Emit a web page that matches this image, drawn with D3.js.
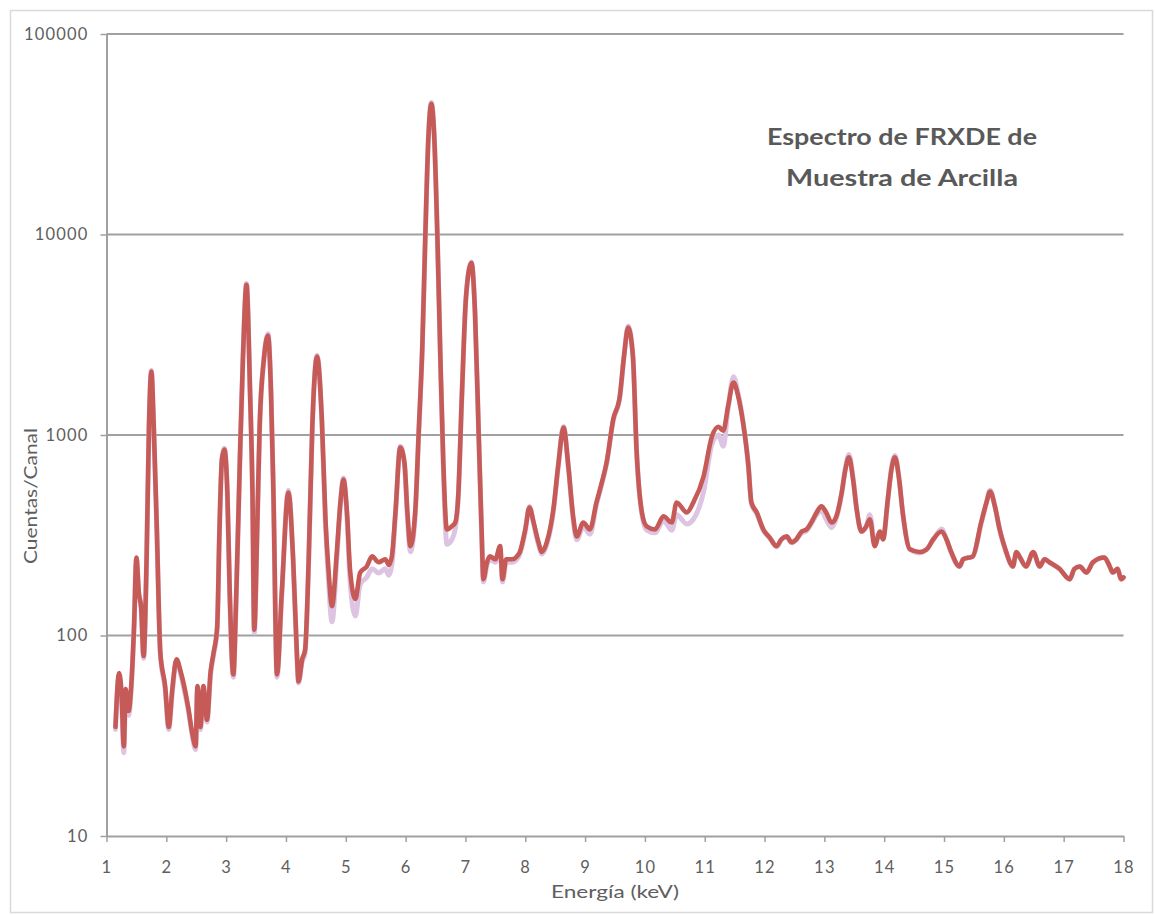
<!DOCTYPE html>
<html>
<head>
<meta charset="utf-8">
<script src="https://cdn.jsdelivr.net/npm/d3@7"></script>
<style>
  html, body { margin: 0; padding: 0; background: #ffffff; }
  svg { display: block; }
  text { font-family: Lato, "Open Sans", "DejaVu Sans", sans-serif; }
</style>
</head>
<body>
<svg id="chart" width="1155" height="915"></svg>
<script>
// Energy channels (keV) of the EDXRF spectrum
const energy = [
  1.15, 1.21, 1.25, 1.29, 1.32, 1.37, 1.41, 1.46, 1.50, 1.54, 1.58, 1.62, 1.67, 1.71, 1.75, 1.79, 1.84, 1.90, 1.98,
  2.04, 2.10, 2.17, 2.24, 2.32, 2.37, 2.43, 2.49, 2.52, 2.57, 2.62, 2.68, 2.74, 2.79, 2.85, 2.89, 2.93, 2.97,
  3.02, 3.06, 3.12, 3.17, 3.23, 3.28, 3.34, 3.40, 3.44, 3.47, 3.52, 3.56, 3.63, 3.70, 3.75, 3.79, 3.85, 3.93,
  4.04, 4.12, 4.18, 4.21, 4.27, 4.32, 4.38, 4.44, 4.52, 4.60, 4.66, 4.71, 4.77, 4.85, 4.91, 4.96,
  5.02, 5.07, 5.16, 5.24, 5.35, 5.44, 5.55, 5.66, 5.72, 5.77, 5.83, 5.91, 5.98,
  6.03, 6.08, 6.16, 6.22, 6.28, 6.33, 6.38, 6.43, 6.48, 6.53, 6.58, 6.63, 6.69, 6.77, 6.83, 6.88, 6.94,
  7.01, 7.10, 7.16, 7.22, 7.27, 7.30, 7.36, 7.41, 7.50, 7.58, 7.62, 7.68, 7.78, 7.86, 7.91,
  8.00, 8.07, 8.14, 8.22, 8.28, 8.36, 8.47, 8.55, 8.64, 8.72, 8.80, 8.86, 8.97,
  9.08, 9.19, 9.28, 9.36, 9.47, 9.58, 9.65, 9.72, 9.80, 9.86, 9.95,
  10.03, 10.17, 10.31, 10.45, 10.53, 10.70, 10.81, 10.98,
  11.12, 11.23, 11.31, 11.39, 11.48, 11.56, 11.64, 11.73, 11.78, 11.87, 11.98,
  12.09, 12.20, 12.28, 12.37, 12.45, 12.53, 12.62, 12.70, 12.78, 12.87, 12.95,
  13.03, 13.12, 13.20, 13.29, 13.35, 13.41, 13.48, 13.54, 13.62, 13.70, 13.76, 13.84, 13.93, 13.98,
  14.06, 14.12, 14.18, 14.25, 14.31, 14.43, 14.59, 14.71, 14.82, 14.96,
  15.04, 15.12, 15.26, 15.32, 15.48, 15.62, 15.71, 15.77, 15.85, 15.93,
  16.04, 16.10, 16.15, 16.21, 16.26, 16.37, 16.49, 16.60, 16.68, 16.76, 16.93,
  17.10, 17.18, 17.27, 17.38, 17.49, 17.68, 17.77, 17.82, 17.90, 17.96, 18.00
];

// Counts per channel, first acquisition (drawn on top)
const countsRun1 = [
  35, 65, 52, 28, 54, 42, 54, 110, 245, 164, 137, 79, 240, 1100, 2070, 1100, 350, 82, 56,
  35, 54, 76, 66, 52, 43, 33, 28, 56, 35, 56, 38, 66, 82, 110, 350, 760, 847,
  520, 164, 64, 164, 760, 2380, 5620, 1630, 520, 107, 350, 1100, 2380, 3130, 1630, 520, 64, 164,
  517, 240, 85, 59, 76, 85, 240, 1100, 2460, 1190, 381, 215, 140, 261, 461, 600,
  411, 215, 152, 206, 221, 248, 232, 240, 225, 248, 411, 866, 730,
  411, 279, 411, 1050, 2800, 10000, 30000, 44800, 30000, 10000, 2500, 730, 338, 350, 366, 500, 1560,
  4900, 7230, 4080, 1050, 338, 191, 232, 248, 240, 279, 191, 240, 240, 248, 261,
  338, 435, 366, 292, 261, 292, 426, 700, 1090, 700, 393, 312, 366,
  338, 461, 580, 730, 1195, 1556, 2460, 3430, 2460, 847, 411,
  350, 338, 393, 366, 461, 411, 461, 621,
  984, 1100, 1050, 1390, 1826, 1556, 1155, 700, 461, 411, 338,
  307, 279, 302, 312, 292, 302, 330, 338, 366, 411, 441,
  411, 366, 393, 517, 670, 773, 600, 426, 330, 350, 380, 279, 330, 302,
  477, 670, 773, 600, 411, 269, 261, 269, 302, 330,
  302, 261, 221, 240, 248, 366, 461, 523, 441, 338,
  261, 232, 221, 261, 248, 221, 261, 221, 240, 232, 215,
  191, 215, 221, 206, 232, 245, 221, 206, 215, 191, 195
];

// Counts per channel, second acquisition (drawn underneath)
const countsRun2 = [
  34, 62, 50, 26, 52, 40, 52, 108, 240, 160, 135, 77, 235, 1080, 2100, 1080, 340, 80, 54,
  34, 52, 75, 64, 50, 42, 32, 27, 54, 34, 54, 37, 64, 80, 108, 345, 750, 860,
  510, 160, 62, 160, 750, 2350, 5700, 1600, 510, 103, 345, 1080, 2350, 3200, 1600, 510, 62, 160,
  530, 235, 82, 58, 74, 82, 235, 1080, 2500, 1170, 360, 190, 117, 240, 450, 610,
  390, 190, 125, 180, 195, 215, 205, 215, 200, 225, 400, 880, 720,
  390, 262, 400, 1030, 2800, 10000, 30000, 45500, 30000, 10000, 2450, 700, 285, 300, 340, 490, 1540,
  4900, 7300, 4050, 1030, 320, 185, 225, 240, 232, 270, 185, 232, 232, 240, 255,
  330, 440, 360, 285, 255, 285, 415, 690, 1100, 690, 380, 300, 350,
  320, 450, 570, 720, 1180, 1540, 2460, 3500, 2460, 840, 400,
  335, 325, 375, 335, 400, 360, 380, 520,
  900, 1000, 880, 1350, 1950, 1600, 1170, 700, 455, 405, 335,
  305, 277, 300, 310, 290, 300, 325, 332, 360, 400, 420,
  380, 345, 385, 510, 680, 800, 610, 426, 330, 350, 400, 290, 325, 302,
  470, 680, 790, 600, 405, 269, 258, 269, 300, 340,
  302, 258, 221, 240, 248, 360, 461, 530, 441, 338,
  258, 232, 221, 258, 248, 221, 258, 221, 240, 232, 215,
  191, 215, 221, 206, 232, 245, 221, 206, 215, 191, 195
];

const xTickValues = d3.range(1, 19);
const yTickValues = [10, 100, 1000, 10000, 100000];
const gridValues = [100, 1000, 10000, 100000];
const titleLines = ["Espectro de FRXDE de", "Muestra de Arcilla"];

const svg = d3.select("#chart");
const W = 1155, H = 915;
const plot = { left: 106.5, right: 1123.5, top: 34, bottom: 836 };
const axisGray = "#a0a0a0";
const textGray = "#5e5e5e";

// Outer chart frame
svg.append("rect")
  .attr("x", 10.5).attr("y", 10.5)
  .attr("width", 1142).attr("height", 902)
  .attr("fill", "#ffffff")
  .attr("stroke", "#d9d9d9").attr("stroke-width", 1.5);

const x = d3.scaleLinear().domain([1, 18]).range([plot.left, plot.right]);
const y = d3.scaleLog().domain([10, 100000]).range([plot.bottom, plot.top]);

// Horizontal gridlines
svg.append("g").selectAll("line")
  .data(gridValues)
  .join("line")
  .attr("x1", plot.left).attr("x2", plot.right)
  .attr("y1", d => y(d)).attr("y2", d => y(d))
  .attr("stroke", axisGray).attr("stroke-width", 2);

// Y axis
const yAxis = svg.append("g")
  .attr("transform", `translate(${plot.left},0)`)
  .call(d3.axisLeft(y).tickValues(yTickValues).tickFormat(d3.format("d"))
    .tickSize(6).tickSizeOuter(0).tickPadding(12));

// X axis
const xAxis = svg.append("g")
  .attr("transform", `translate(0,${plot.bottom})`)
  .call(d3.axisBottom(x).tickValues(xTickValues).tickFormat(d3.format("d"))
    .tickSize(6).tickSizeOuter(0).tickPadding(19));

[yAxis, xAxis].forEach(g => {
  g.select(".domain").attr("stroke", axisGray).attr("stroke-width", 2);
  g.selectAll(".tick line").attr("stroke", axisGray).attr("stroke-width", 1.5);
  g.selectAll(".tick text")
    .attr("fill", textGray)
    .style("font-family", "Lato, 'Open Sans', sans-serif")
    .style("font-size", "16.5px")
    .style("letter-spacing", "1.2px");
});

// Spectrum lines
const line = values => d3.line()
  .x((d, i) => x(energy[i]))
  .y(d => y(d))
  .curve(d3.curveMonotoneX)(values);

svg.append("path")
  .attr("d", line(countsRun2))
  .attr("fill", "none")
  .attr("stroke", "#dcc4e2")
  .attr("stroke-width", 5)
  .attr("stroke-linejoin", "round")
  .attr("stroke-linecap", "round");

svg.append("path")
  .attr("d", line(countsRun1))
  .attr("fill", "none")
  .attr("stroke", "#c65a56")
  .attr("stroke-width", 4.6)
  .attr("stroke-linejoin", "round")
  .attr("stroke-linecap", "round");

// Axis titles
svg.append("text")
  .attr("x", (plot.left + plot.right) / 2).attr("y", 898)
  .attr("text-anchor", "middle")
  .attr("fill", textGray)
  .style("font-size", "17px")
  .attr("textLength", 128).attr("lengthAdjust", "spacingAndGlyphs")
  .text("Energía (keV)");

svg.append("text")
  .attr("transform", "translate(37,496) rotate(-90)")
  .attr("text-anchor", "middle")
  .attr("fill", textGray)
  .style("font-size", "17px")
  .attr("textLength", 136).attr("lengthAdjust", "spacingAndGlyphs")
  .text("Cuentas/Canal");

// Chart title
svg.append("g").selectAll("text")
  .data(titleLines)
  .join("text")
  .attr("x", 902)
  .attr("y", (d, i) => 145 + i * 41)
  .attr("text-anchor", "middle")
  .attr("fill", "#595959")
  .style("font-size", "22px")
  .style("font-weight", "700")
  .attr("textLength", (d, i) => i === 0 ? 270 : 232)
  .attr("lengthAdjust", "spacingAndGlyphs")
  .text(d => d);
</script>
</body>
</html>
